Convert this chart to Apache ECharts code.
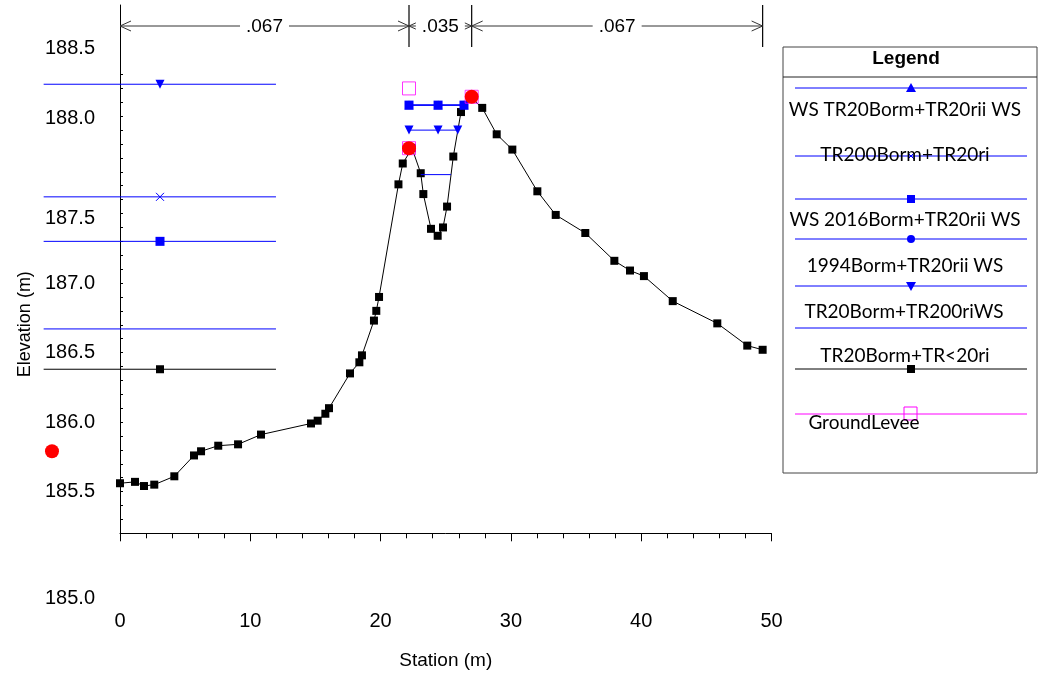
<!DOCTYPE html>
<html><head><meta charset="utf-8">
<script src="https://cdn.jsdelivr.net/npm/echarts@6/dist/echarts.min.js"></script>
<style>html,body{margin:0;padding:0;background:#fff}#c{width:1044px;height:677px}</style>
</head><body><div id="c"></div>
<script>
// ---------------- data ----------------
const groundStation = [0, 1.15, 1.84, 2.63, 4.17, 5.68, 6.22, 7.54, 9.06, 10.82, 14.66, 15.17, 15.76, 16.04, 17.65, 18.37, 18.57, 19.49, 19.67, 19.88, 21.37, 21.70, 22.41, 23.08, 23.28, 23.87, 24.38, 24.79, 25.10, 25.58, 26.17, 26.86, 27.80, 28.91, 30.11, 32.03, 33.44, 35.71, 37.94, 39.14, 40.21, 42.42, 45.84, 48.14, 49.32];
const groundElev = [185.56, 185.57, 185.54, 185.55, 185.61, 185.76, 185.79, 185.83, 185.84, 185.91, 185.99, 186.01, 186.06, 186.10, 186.35, 186.43, 186.48, 186.73, 186.80, 186.90, 187.71, 187.86, 187.97, 187.79, 187.64, 187.39, 187.34, 187.40, 187.55, 187.91, 188.23, 188.34, 188.26, 188.07, 187.96, 187.66, 187.49, 187.36, 187.16, 187.09, 187.05, 186.87, 186.71, 186.55, 186.52];

const bankStation = [22.18, 26.99];
const bankElev = [187.97, 188.34];
const leveeStation = [22.18, 26.99, 22.18];
const leveeElev = [187.97, 188.34, 188.40];
const strayStation = [-5.22];
const strayElev = [185.79];

// water-surface lines
const wsHighStations = [22.18, 24.41, 26.40];
const wsHighElev = 188.28;
const wsMidStations = [22.18, 24.41, 25.92];
const wsMidElev = 188.10;
const wsChannelStations = [23.08, 25.40];
const wsChannelElev = 187.78;
const leftLineStations = [-5.86, 3.07, 11.97]; // start, marker, end
const leftElev = [188.43, 187.62, 187.30, 186.67, 186.38]; // tri-down, cross, square, plain, black square

// Manning n zones
const nBreaks = [0, 22.18, 26.99, 49.32];
const nValues = ['.067', '.035', '.067'];

// axis labels
const xTicks = [0, 10, 20, 30, 40, 50];
const yLabelValues = [185.5, 186.0, 186.5, 187.0, 187.5, 188.0, 188.5];
const yExtraLabel = '185.0';
const legendNames = ['WS TR20Borm+TR20rii WS', 'TR200Borm+TR20ri', 'WS 2016Borm+TR20rii WS', '1994Borm+TR20rii WS', 'TR20Borm+TR200riWS', 'TR20Borm+TR<20ri', 'GroundLevee'];

// ---------------- build ----------------
const BLUE = '#0000ff';
const FONT = 'Liberation Sans, Arial, sans-serif';
const GAP = ['-', '-'];
const yTickValues = [];
for (let k = 3; k <= 35; k++) yTickValues.push(Math.round((185.0 + k * 0.1) * 10) / 10);

function seg(stations, elev, markIdx) {
  return stations.map((s, i) => (markIdx === 'all' || markIdx === i) ? [s, elev] : { value: [s, elev], symbol: 'none' });
}
const pair = (a, b) => a.map((s, i) => [s, b[i]]);
const leftMark = (elev) => [[leftLineStations[1], elev]];

function wsSeries(name, symbol, data, extra) {
  return Object.assign({
    name, type: 'line', data, symbol, symbolSize: 9, clip: false, connectNulls: false,
    lineStyle: { color: BLUE, width: 1 }, itemStyle: { color: BLUE }, z: 3,
    emphasis: { disabled: true }
  }, extra || {});
}

const leftColors = [BLUE, BLUE, BLUE, BLUE, '#000'];

const series = [
  {
    name: legendNames[5], type: 'line', clip: false, connectNulls: false,
    data: pair(groundStation, groundElev).concat([GAP], leftMark(leftElev[4])),
    symbol: 'rect', symbolSize: 8, lineStyle: { color: '#000', width: 1 }, itemStyle: { color: '#000' }, z: 2,
    emphasis: { disabled: true }
  },
  wsSeries(legendNames[0], 'triangle', seg(wsHighStations, wsHighElev, 'all')),
  wsSeries(legendNames[1], 'path://M0,0L10,10M10,0L0,10', leftMark(leftElev[1]),
    { symbolSize: 8, itemStyle: { color: 'none', borderColor: BLUE, borderWidth: 1 } }),
  wsSeries(legendNames[2], 'rect', leftMark(leftElev[2]).concat([GAP], seg(wsHighStations, wsHighElev, 'all'))),
  wsSeries(legendNames[3], 'circle', seg(wsHighStations, wsHighElev, 'all'), { symbolSize: 8 }),
  wsSeries(legendNames[4], 'triangle', leftMark(leftElev[0]).concat([GAP], seg(wsMidStations, wsMidElev, 'all')), { symbolRotate: 180 }),
  wsSeries('WS', 'none', seg(wsChannelStations, wsChannelElev, -1)),
  {
    // left-hand water-surface lines (extend beyond the plot edge)
    name: 'WS left', type: 'custom', clip: false, z: 1, silent: true,
    data: leftElev.map((e, i) => [leftLineStations[0], leftLineStations[2], e, i]),
    renderItem: function (params, api) {
      const a = api.coord([api.value(0), api.value(2)]);
      const b = api.coord([api.value(1), api.value(2)]);
      return { type: 'line', shape: { x1: a[0], y1: a[1], x2: b[0], y2: b[1] },
        style: { stroke: leftColors[api.value(3)], lineWidth: 1 } };
    }
  },
  {
    name: legendNames[6], type: 'scatter', clip: false, data: pair(leveeStation, leveeElev),
    symbol: 'rect', symbolSize: 13, itemStyle: { color: 'rgba(0,0,0,0)', borderColor: '#ff00ff', borderWidth: 1 }, z: 4,
    emphasis: { disabled: true }
  },
  {
    name: 'Bank Sta', type: 'scatter', clip: false, data: pair(bankStation, bankElev).concat(pair(strayStation, strayElev)),
    symbol: 'circle', symbolSize: 14, itemStyle: { color: '#ff0000', opacity: 1 }, z: 5,
    emphasis: { disabled: true }
  },
  {
    name: 'n values', type: 'custom', clip: false, z: 6, silent: true,
    data: nValues.map((n, i) => [nBreaks[i], nBreaks[i + 1]]),
    renderItem: function (params, api) {
      const x0 = api.coord([api.value(0), 189.0]);
      const x1 = api.coord([api.value(1), 189.0]);
      const top = x0[1];
      const yl = top + 21;
      const st = { stroke: '#333', lineWidth: 1, fill: null };
      const ch = [];
      ch.push({ type: 'line', shape: { x1: x0[0], y1: yl, x2: x1[0], y2: yl }, style: st });
      ch.push({ type: 'line', shape: { x1: x1[0], y1: top, x2: x1[0], y2: top + 42 }, style: { stroke: '#000', lineWidth: 1.2 } });
      ch.push({ type: 'polyline', shape: { points: [[x0[0] + 11, yl - 5], [x0[0], yl], [x0[0] + 11, yl + 5]] }, style: st });
      ch.push({ type: 'polyline', shape: { points: [[x1[0] - 11, yl - 5], [x1[0], yl], [x1[0] - 11, yl + 5]] }, style: st });
      ch.push({ type: 'text', x: (x0[0] + x1[0]) / 2, y: yl + 1, style: {
        text: nValues[params.dataIndex], fontSize: 19, fontFamily: FONT, fill: '#000', align: 'center', verticalAlign: 'middle',
        backgroundColor: '#fff', padding: [2, 6] } });
      return { type: 'group', children: ch };
    }
  }
];

// legend graphic
const LX0 = 795, LX1 = 1027, MX = 911;
const rows = [
  { y: 88, ty: 110, tx: 905, m: 'triUp', c: BLUE, t: legendNames[0] },
  { y: 156, ty: 155, tx: 905, m: 'cross', c: BLUE, t: legendNames[1] },
  { y: 199, ty: 220, tx: 905, m: 'rect', c: BLUE, t: legendNames[2] },
  { y: 239, ty: 266, tx: 905, m: 'circle', c: BLUE, t: legendNames[3] },
  { y: 286, ty: 312, tx: 904, m: 'triDown', c: BLUE, t: legendNames[4] },
  { y: 328, ty: 356, tx: 905, m: 'none', c: BLUE, t: legendNames[5] },
  { y: 369, ty: null, tx: 0, m: 'rect', c: '#000', t: '' },
  { y: 414, ty: 423, tx: 864, m: 'openRect', c: '#ff00ff', t: legendNames[6] }
];
const lg = [
  { type: 'rect', shape: { x: 783, y: 47, width: 254, height: 426 }, style: { fill: '#fff', stroke: '#444', lineWidth: 1 } },
  { type: 'line', shape: { x1: 783, y1: 77, x2: 1037, y2: 77 }, style: { stroke: '#222', lineWidth: 1 } },
  { type: 'text', x: 906, y: 59, style: { text: 'Legend', fontSize: 19, fontWeight: 'bold', fontFamily: FONT, fill: '#000', align: 'center', verticalAlign: 'middle' } }
];
rows.forEach(r => {
  lg.push({ type: 'line', shape: { x1: LX0, y1: r.y, x2: LX1, y2: r.y }, style: { stroke: r.c, lineWidth: 1 } });
  const y = r.y;
  if (r.m === 'triUp') lg.push({ type: 'polygon', shape: { points: [[MX, y - 5], [MX - 5, y + 4], [MX + 5, y + 4]] }, style: { fill: r.c } });
  if (r.m === 'triDown') lg.push({ type: 'polygon', shape: { points: [[MX - 5, y - 4], [MX + 5, y - 4], [MX, y + 5]] }, style: { fill: r.c } });
  if (r.m === 'rect') lg.push({ type: 'rect', shape: { x: MX - 4, y: y - 4, width: 8, height: 8 }, style: { fill: r.c } });
  if (r.m === 'circle') lg.push({ type: 'circle', shape: { cx: MX, cy: y, r: 4 }, style: { fill: r.c } });
  if (r.m === 'cross') lg.push({ type: 'polyline', shape: { points: [[MX - 3, y - 3], [MX + 3, y + 3]] }, style: { stroke: r.c } },
    { type: 'polyline', shape: { points: [[MX + 3, y - 3], [MX - 3, y + 3]] }, style: { stroke: r.c } });
  if (r.m === 'openRect') lg.push({ type: 'rect', shape: { x: MX - 7, y: y - 7, width: 13, height: 13 }, style: { fill: 'none', stroke: r.c, lineWidth: 1 } });
  if (r.ty !== null) lg.push({ type: 'text', x: r.tx, y: r.ty, style: { text: r.t, fontSize: 19, fontFamily: 'Lato, sans-serif', fill: '#000', align: 'center', verticalAlign: 'middle' } });
});
lg.push({ type: 'text', x: 95, y: 598, style: { text: yExtraLabel, fontSize: 20, fontFamily: FONT, fill: '#000', align: 'right', verticalAlign: 'middle' } });

const chart = echarts.init(document.getElementById('c'), null, { renderer: 'canvas' });
chart.setOption({
  animation: false,
  backgroundColor: '#fff',
  grid: { left: 120, right: 272.5, top: 5, bottom: 143.7, containLabel: false },
  xAxis: {
    type: 'value', min: 0, max: 50, interval: 10,
    axisLine: { show: true, onZero: false, lineStyle: { color: '#000', width: 1 } },
    axisTick: { show: true, length: 8, lineStyle: { color: '#000' } },
    minorTick: { show: true, splitNumber: 5, length: 5, lineStyle: { color: '#000' } },
    splitLine: { show: false },
    axisLabel: { margin: 78, fontSize: 20, fontFamily: FONT, color: '#000', customValues: xTicks },
    name: 'Station (m)', nameLocation: 'middle', nameGap: 118,
    nameTextStyle: { fontSize: 19, fontFamily: FONT, color: '#000' }
  },
  yAxis: {
    type: 'value', min: 185.2, max: 189.0,
    axisLine: { show: true, onZero: false, lineStyle: { color: '#000', width: 1 } },
    axisTick: { show: true, inside: true, length: 3, lineStyle: { color: '#000' }, customValues: yTickValues },
    splitLine: { show: false },
    axisLabel: {
      margin: 25, fontSize: 20, fontFamily: FONT, color: '#000', customValues: yLabelValues,
      formatter: v => {
        const t = v.toFixed(1);
        if (v >= 188) return '{up|' + t + '}';
        if (v === 187.5) return '{dn|' + t + '}';
        return '{n|' + t + '}';
      },
      rich: {
        n: { fontSize: 20, fontFamily: FONT, color: '#000' },
        up: { fontSize: 20, fontFamily: FONT, color: '#000', padding: [0, 0, 52, 0] },
        dn: { fontSize: 20, fontFamily: FONT, color: '#000', padding: [10, 0, 0, 0] }
      }
    },
    name: 'Elevation (m)', nameLocation: 'middle', nameGap: 86,
    nameTextStyle: { fontSize: 18, fontFamily: FONT, color: '#000', padding: [0, 110, 0, 0] }
  },
  graphic: lg,
  series
});
</script>
</body></html>
